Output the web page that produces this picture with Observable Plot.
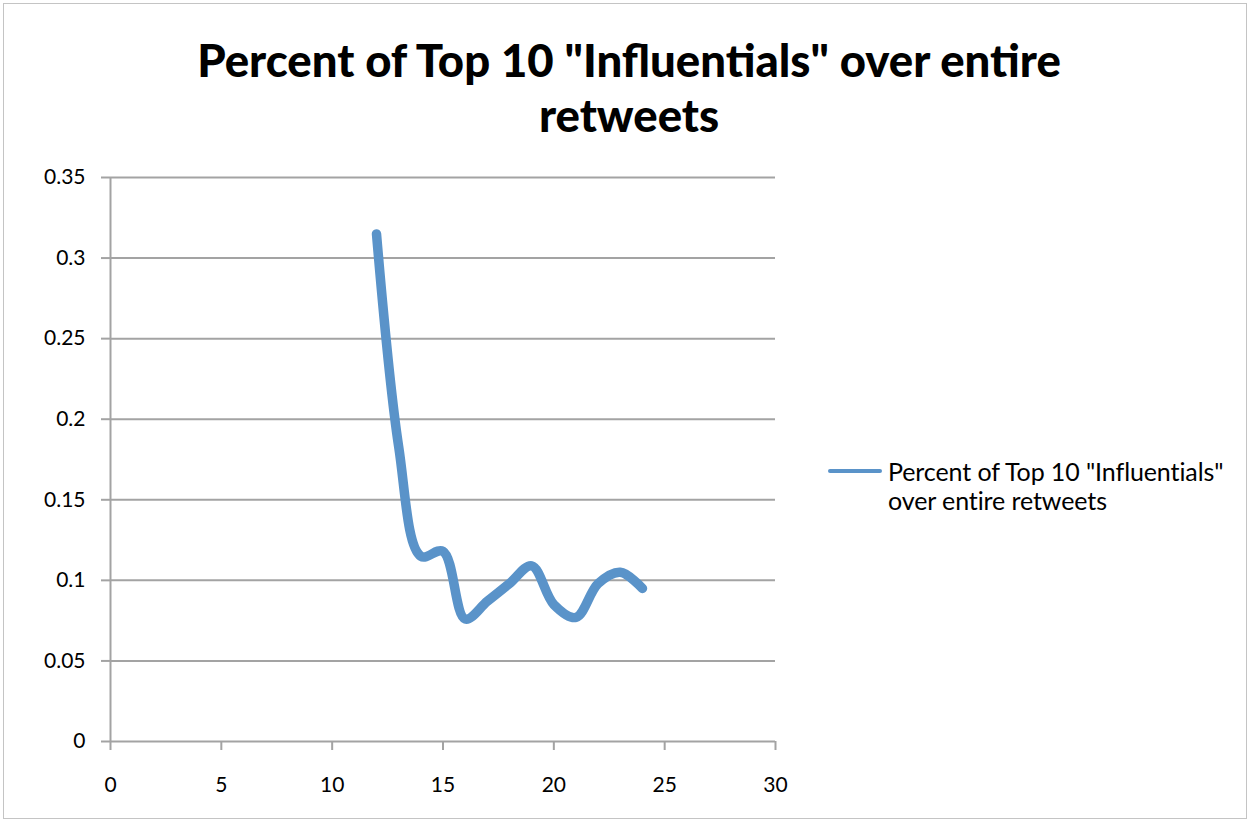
<!DOCTYPE html>
<html><head><meta charset="utf-8">
<script src="https://cdn.jsdelivr.net/npm/d3@7"></script>
<script src="https://cdn.jsdelivr.net/npm/@observablehq/plot@0.6"></script>
<style>
body{margin:0;background:#fff;}
#wrap{position:relative;width:1250px;height:822px;overflow:hidden;font-family:Lato,"Open Sans",sans-serif;background:#fff}
#frame{position:absolute;left:3px;top:3px;width:1244px;height:816px;border:1px solid #c4c4c4;box-sizing:border-box}
#title{position:absolute;left:8px;top:32px;width:1242px;text-align:center;font-weight:900;font-size:45.5px;line-height:55px;color:#000;letter-spacing:0px}
#chart{position:absolute;left:0;top:150px}
#legend{position:absolute;left:828px;top:457px;display:flex;align-items:flex-start}
#legend .sw{width:54px;height:4px;background:#5a93c9;border-radius:2px;margin-top:12px}
#legend .tx{margin-left:6px;font-size:25px;line-height:29px;color:#000;white-space:nowrap;letter-spacing:-0.1px}
</style></head>
<body>
<div id="wrap">
<div id="frame"></div>
<div id="title">Percent of Top 10 "Influentials" over entire<br>retweets</div>
<div id="chart"></div>
<div id="legend"><div class="sw"></div><div class="tx">Percent of Top 10 "Influentials"<br>over entire retweets</div></div>
</div>
<script>
const xs = [12, 13, 14, 15, 16, 17, 18, 19, 20, 21, 22, 23, 24];
const ys = [0.315, 0.183, 0.115, 0.118, 0.076, 0.087, 0.098, 0.109, 0.085, 0.077, 0.098, 0.105, 0.095];
const xTicks = [0, 5, 10, 15, 20, 25, 30];
const yTicks = [0, 0.05, 0.1, 0.15, 0.2, 0.25, 0.3, 0.35];
const yTickLabels = ["0", "0.05", "0.1", "0.15", "0.2", "0.25", "0.3", "0.35"];

const data = xs.map((x, i) => ({x, y: ys[i]}));
const gray = "#a3a3a3";

const chart = Plot.plot({
  width: 1250,
  height: 672,
  marginTop: 27,
  marginBottom: 81,
  marginLeft: 110,
  marginRight: 475,
  style: {fontFamily: "Lato, 'Open Sans', sans-serif", fontSize: "21px", background: "transparent", color: "#000"},
  x: {domain: [0, 30]},
  y: {domain: [0, 0.35]},
  marks: [
    Plot.gridY(yTicks.slice(1), {stroke: gray, strokeOpacity: 1, strokeWidth: 2}),
    Plot.ruleY([0], {stroke: gray, strokeWidth: 2}),
    Plot.ruleX([0], {stroke: gray, strokeWidth: 2}),
    Plot.axisY({ticks: yTicks, tickFormat: d => yTickLabels[yTicks.indexOf(d)], tickSize: 9, tickPadding: 16, stroke: gray, fill: "#000", strokeWidth: 2, label: null, fontSize: 21}),
    Plot.axisX({ticks: xTicks, tickFormat: d => String(d), tickSize: 9, tickPadding: 27, stroke: gray, fill: "#000", strokeWidth: 2, label: null, fontSize: 21}),
    Plot.line(data, {x: "x", y: "y", stroke: "#5a93c9", strokeWidth: 9.5, curve: "catmull-rom", strokeLinecap: "round", strokeLinejoin: "round"})
  ]
});
document.getElementById("chart").appendChild(chart);
</script>
</body></html>
